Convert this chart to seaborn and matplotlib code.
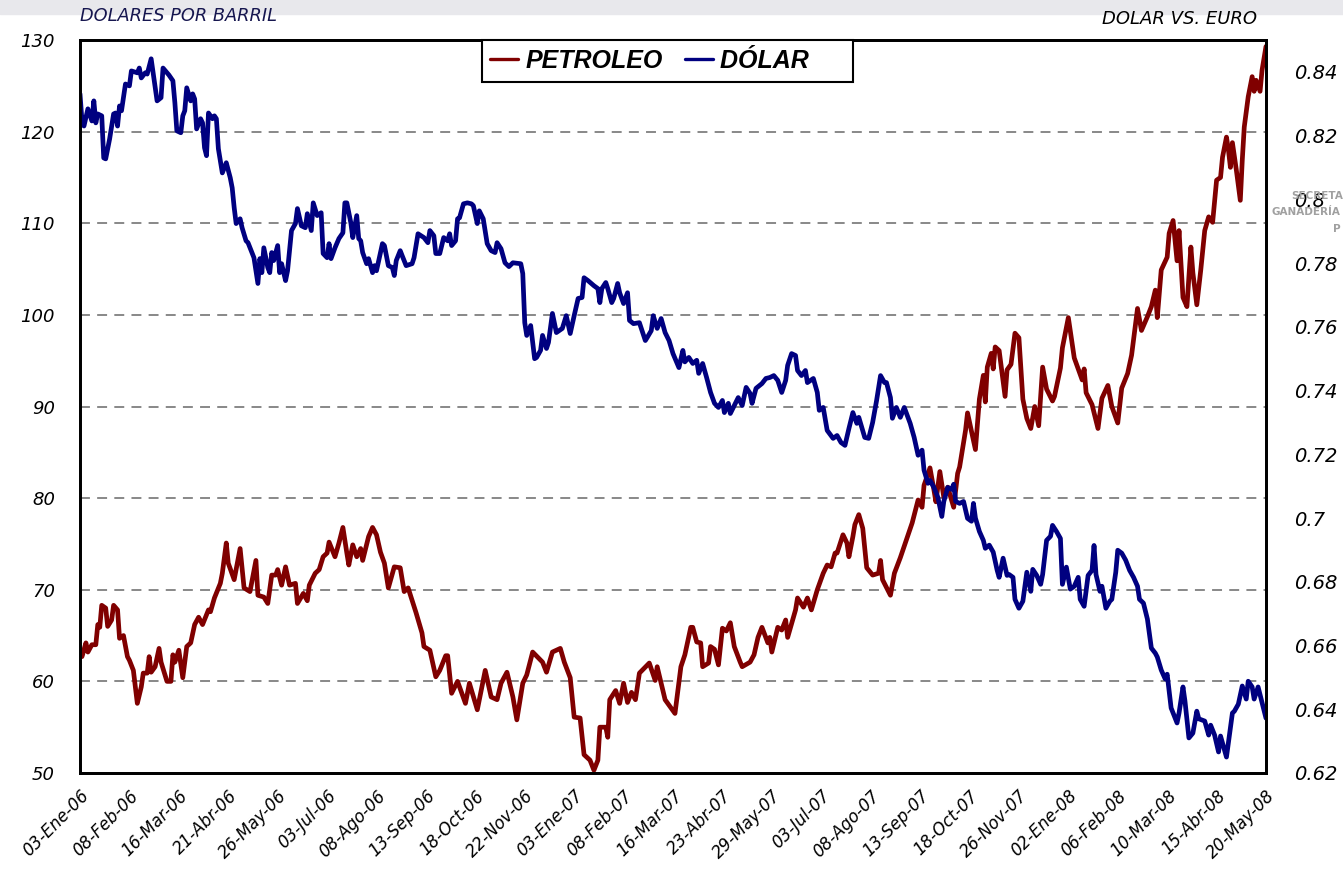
"""
plot.py: Petróleo (USD/barril) vs. Dólar frente al euro, ene-2006 a may-2008
Dos ejes: izquierda dólares por barril, derecha dólar vs. euro.
"""
import matplotlib
matplotlib.use("Agg")
import matplotlib.pyplot as plt
from matplotlib.patches import Rectangle
import seaborn as sns

sns.set_style("white")
plt.rcParams["font.family"] = ["DejaVu Sans"]
plt.rcParams["text.color"] = "black"
plt.rcParams["xtick.color"] = "black"
plt.rcParams["ytick.color"] = "black"

# ---- datos (índice = observación diaria) ----
tick_labels = ["03-Ene-06", "08-Feb-06", "16-Mar-06", "21-Abr-06", "26-May-06",
               "03-Jul-06", "08-Ago-06", "13-Sep-06", "18-Oct-06", "22-Nov-06",
               "03-Ene-07", "08-Feb-07", "16-Mar-07", "23-Abr-07", "29-May-07",
               "03-Jul-07", "08-Ago-07", "13-Sep-07", "18-Oct-07", "26-Nov-07",
               "02-Ene-08", "06-Feb-08", "10-Mar-08", "15-Abr-08", "20-May-08"]
tick_obs = list(range(0, 601, 25))

petroleo_obs = [
    0, 1, 3, 4, 6, 8, 9, 10, 11, 13, 14, 16, 17, 19, 20, 22, 24, 25, 27, 28,
    29, 31, 32, 34, 35, 36, 38, 40, 41, 44, 46, 47, 48, 50, 52, 54, 56, 58, 60, 62,
    65, 66, 68, 71, 72, 74, 75, 78, 81, 83, 86, 89, 90, 93, 95, 97, 99, 100, 102, 104,
    106, 109, 110, 113, 115, 116, 119, 121, 123, 125, 126, 129, 131, 133, 135, 136, 138, 140, 142, 143,
    146, 148, 150, 152, 154, 156, 159, 162, 164, 166, 170, 173, 174, 177, 180, 182, 185, 186, 188, 191,
    195, 197, 200, 201, 205, 208, 211, 213, 216, 219, 221, 224, 226, 229, 234, 236, 239, 243, 245, 248,
    250, 253, 255, 258, 260, 262, 263, 266, 267, 268, 271, 273, 275, 277, 279, 281, 283, 288, 291, 292,
    296, 301, 304, 306, 309, 310, 312, 314, 315, 318, 319, 321, 323, 325, 327, 329, 331, 334, 335, 339,
    341, 343, 345, 348, 349, 350, 353, 355, 357, 358, 362, 363, 366, 368, 370, 373, 376, 378, 380, 382,
    383, 386, 388, 389, 391, 392, 394, 396, 398, 401, 404, 405, 406, 410, 412, 415, 418, 421, 424, 426,
    427, 430, 432, 433, 435, 437, 439, 442, 444, 445, 448, 449, 453, 455, 457, 458, 459, 461, 462, 463,
    465, 468, 469, 471, 473, 475, 477, 479, 481, 483, 485, 487, 489, 492, 493, 496, 497, 500, 503, 507,
    508, 509, 512, 515, 517, 520, 522, 525, 527, 530, 532, 535, 537, 540, 542, 544, 545, 547, 550, 551,
    553, 555, 556, 558, 560, 562, 563, 565, 567, 569, 571, 573, 575, 577, 578, 580, 581, 582, 583, 585,
    587, 588, 589, 591, 593, 594, 595, 597, 598, 600]
petroleo_usd = [
    63.2, 62.7, 64.2, 63.2, 64.0, 64.0, 66.2, 65.9, 68.3, 68.0, 66.0, 66.7, 68.3, 67.8, 64.7, 65.0, 62.7, 62.3, 61.2, 59.4,
    57.6, 59.4, 60.9, 60.9, 62.7, 61.0, 61.6, 63.6, 62.1, 60.0, 60.0, 62.9, 62.1, 63.4, 60.4, 63.8, 64.2, 66.2, 67.0, 66.2,
    67.8, 67.6, 69.1, 70.7, 71.8, 75.1, 72.9, 71.1, 74.5, 70.2, 69.8, 73.2, 69.4, 69.2, 68.5, 71.6, 71.6, 72.2, 70.5, 72.5,
    70.5, 70.7, 68.5, 69.6, 68.8, 70.5, 71.8, 72.2, 73.6, 74.0, 75.2, 73.6, 75.1, 76.8, 74.0, 72.7, 74.9, 73.6, 74.5, 73.2,
    75.8, 76.8, 76.0, 74.1, 72.9, 70.2, 72.5, 72.4, 69.8, 70.2, 67.5, 65.3, 63.8, 63.4, 60.5, 61.2, 62.8, 62.8, 58.7, 60.0,
    57.6, 59.8, 57.6, 56.9, 61.2, 58.3, 58.0, 59.8, 61.0, 58.3, 55.8, 59.8, 60.7, 63.2, 62.1, 61.0, 63.2, 63.6, 62.1, 60.4,
    56.1, 56.0, 52.0, 51.4, 50.3, 51.4, 55.0, 55.0, 53.9, 58.0, 59.0, 57.6, 59.8, 57.7, 58.8, 58.0, 60.9, 62.0, 60.1, 61.6,
    58.0, 56.5, 61.6, 62.9, 65.9, 65.9, 64.3, 64.2, 61.6, 62.0, 63.8, 63.5, 61.8, 65.8, 65.5, 66.4, 63.8, 62.1, 61.6, 62.1,
    62.9, 64.8, 65.9, 64.2, 64.8, 63.2, 65.9, 65.6, 66.7, 64.8, 67.8, 69.1, 68.1, 69.1, 67.8, 70.0, 71.8, 72.7, 72.5, 74.0,
    74.0, 76.0, 75.1, 73.6, 75.8, 77.1, 78.2, 76.7, 72.4, 71.6, 71.8, 73.2, 71.1, 69.4, 71.8, 73.5, 75.4, 77.3, 79.8, 79.0,
    81.4, 83.3, 80.9, 79.6, 82.9, 80.1, 81.2, 79.0, 82.7, 83.4, 87.4, 89.3, 85.3, 90.8, 93.4, 90.5, 94.3, 95.8, 94.1, 96.5,
    96.1, 91.1, 94.0, 94.6, 98.0, 97.5, 90.8, 88.7, 87.6, 90.0, 87.9, 94.3, 91.9, 90.6, 91.1, 94.2, 96.4, 99.7, 95.3, 92.9,
    94.1, 91.5, 90.2, 87.6, 90.9, 92.3, 90.0, 88.2, 92.0, 93.6, 95.6, 100.7, 98.3, 99.8, 100.9, 102.7, 99.7, 104.9, 106.3, 108.9,
    110.3, 105.9, 109.2, 101.9, 100.9, 107.4, 104.6, 101.1, 104.9, 109.2, 110.7, 110.1, 114.7, 115.0, 117.2, 119.4, 118.0, 116.1, 118.8, 115.8,
    112.5, 116.9, 120.5, 123.8, 126.0, 124.4, 125.6, 124.4, 126.7, 129.3]

dolar_obs = [
    0, 1, 2, 4, 6, 7, 8, 9, 11, 12, 13, 15, 17, 18, 19, 20, 21, 23, 25, 26,
    29, 30, 31, 33, 34, 36, 37, 39, 41, 42, 45, 47, 48, 49, 51, 52, 53, 54, 56, 57,
    58, 59, 61, 62, 63, 64, 65, 67, 68, 69, 70, 72, 74, 76, 77, 78, 79, 81, 82, 84,
    85, 88, 90, 91, 92, 93, 95, 96, 97, 98, 100, 101, 102, 104, 105, 107, 109, 110, 112, 114,
    115, 117, 118, 120, 122, 123, 125, 126, 127, 129, 131, 133, 134, 135, 137, 138, 140, 141, 142, 143,
    145, 146, 148, 149, 150, 153, 154, 156, 158, 159, 160, 162, 163, 165, 168, 169, 171, 174, 176, 177,
    179, 180, 182, 184, 186, 187, 188, 190, 191, 192, 194, 196, 198, 199, 201, 202, 204, 206, 208, 210,
    211, 213, 215, 217, 219, 223, 224, 225, 226, 228, 230, 231, 233, 234, 236, 237, 239, 241, 244, 246,
    248, 250, 252, 254, 255, 257, 260, 262, 263, 264, 266, 267, 269, 270, 272, 273, 275, 277, 278, 280,
    283, 286, 287, 289, 290, 292, 294, 296, 298, 300, 303, 305, 306, 308, 310, 312, 313, 315, 317, 319,
    321, 323, 325, 326, 328, 329, 331, 333, 335, 337, 339, 340, 342, 345, 347, 349, 351, 353, 355, 357,
    358, 360, 362, 363, 365, 367, 368, 371, 373, 374, 376, 378, 381, 383, 385, 387, 389, 391, 393, 394,
    397, 399, 401, 403, 405, 407, 408, 410, 411, 413, 415, 417, 420, 422, 424, 426, 427, 429, 430, 432,
    434, 436, 437, 439, 441, 442, 443, 445, 447, 449, 451, 452, 453, 455, 457, 458, 460, 462, 464, 465,
    467, 469, 470, 472, 473, 475, 477, 479, 481, 482, 484, 486, 487, 489, 491, 492, 494, 496, 497, 499,
    501, 503, 505, 506, 508, 510, 512, 513, 514, 516, 517, 519, 521, 522, 524, 525, 527, 529, 531, 533,
    535, 536, 538, 540, 542, 544, 545, 547, 549, 550, 552, 555, 556, 558, 559, 561, 563, 565, 566, 569,
    571, 572, 574, 576, 577, 580, 583, 584, 586, 588, 590, 591, 593, 594, 596, 600]
dolar_eur = [
    0.8331, 0.8246, 0.8230, 0.8284, 0.8246, 0.8309, 0.8240, 0.8268, 0.8262, 0.8130, 0.8127, 0.8190, 0.8268, 0.8271, 0.8230, 0.8293, 0.8278, 0.8362, 0.8356, 0.8403,
    0.8397, 0.8412, 0.8381, 0.8397, 0.8393, 0.8441, 0.8397, 0.8309, 0.8319, 0.8412, 0.8390, 0.8372, 0.8303, 0.8215, 0.8209, 0.8262, 0.8278, 0.8350, 0.8309, 0.8331,
    0.8315, 0.8221, 0.8253, 0.8240, 0.8162, 0.8137, 0.8271, 0.8253, 0.8262, 0.8253, 0.8159, 0.8083, 0.8115, 0.8068, 0.8036, 0.7974, 0.7924, 0.7939, 0.7911, 0.7870,
    0.7864, 0.7817, 0.7736, 0.7814, 0.7770, 0.7848, 0.7786, 0.7770, 0.7833, 0.7808, 0.7855, 0.7770, 0.7798, 0.7745, 0.7776, 0.7902, 0.7924, 0.7971, 0.7917, 0.7911,
    0.7955, 0.7902, 0.7989, 0.7949, 0.7958, 0.7830, 0.7817, 0.7861, 0.7814, 0.7848, 0.7877, 0.7895, 0.7989, 0.7989, 0.7927, 0.7880, 0.7949, 0.7877, 0.7870, 0.7833,
    0.7798, 0.7814, 0.7770, 0.7792, 0.7776, 0.7861, 0.7855, 0.7792, 0.7786, 0.7761, 0.7808, 0.7839, 0.7823, 0.7792, 0.7798, 0.7817, 0.7892, 0.7880, 0.7864, 0.7902,
    0.7886, 0.7830, 0.7830, 0.7880, 0.7870, 0.7892, 0.7855, 0.7870, 0.7939, 0.7942, 0.7986, 0.7989, 0.7986, 0.7980, 0.7924, 0.7964, 0.7939, 0.7861, 0.7839, 0.7833,
    0.7864, 0.7845, 0.7801, 0.7789, 0.7801, 0.7798, 0.7767, 0.7613, 0.7573, 0.7604, 0.7500, 0.7504, 0.7526, 0.7573, 0.7532, 0.7551, 0.7642, 0.7582, 0.7595, 0.7635,
    0.7579, 0.7635, 0.7689, 0.7692, 0.7754, 0.7745, 0.7729, 0.7720, 0.7676, 0.7720, 0.7739, 0.7720, 0.7676, 0.7689, 0.7736, 0.7707, 0.7673, 0.7707, 0.7620, 0.7610,
    0.7613, 0.7557, 0.7567, 0.7588, 0.7635, 0.7595, 0.7626, 0.7582, 0.7557, 0.7516, 0.7472, 0.7526, 0.7490, 0.7504, 0.7485, 0.7495, 0.7454, 0.7485, 0.7441, 0.7394,
    0.7360, 0.7347, 0.7369, 0.7331, 0.7360, 0.7328, 0.7353, 0.7378, 0.7353, 0.7410, 0.7391, 0.7360, 0.7407, 0.7422, 0.7438, 0.7441, 0.7447, 0.7432, 0.7394, 0.7432,
    0.7479, 0.7516, 0.7510, 0.7463, 0.7447, 0.7463, 0.7425, 0.7438, 0.7394, 0.7338, 0.7347, 0.7275, 0.7250, 0.7259, 0.7237, 0.7228, 0.7281, 0.7331, 0.7297, 0.7316,
    0.7253, 0.7250, 0.7300, 0.7369, 0.7447, 0.7425, 0.7425, 0.7378, 0.7313, 0.7347, 0.7316, 0.7347, 0.7297, 0.7253, 0.7197, 0.7213, 0.7150, 0.7109, 0.7118, 0.7096,
    0.7065, 0.7005, 0.7052, 0.7096, 0.7090, 0.7106, 0.7052, 0.7046, 0.7052, 0.6999, 0.6990, 0.7046, 0.7000, 0.6958, 0.6930, 0.6905, 0.6915, 0.6893, 0.6836, 0.6814,
    0.6874, 0.6820, 0.6823, 0.6814, 0.6745, 0.6717, 0.6739, 0.6830, 0.6770, 0.6839, 0.6820, 0.6792, 0.6823, 0.6930, 0.6943, 0.6977, 0.6958, 0.6936, 0.6792, 0.6846,
    0.6777, 0.6786, 0.6814, 0.6745, 0.6723, 0.6820, 0.6836, 0.6914, 0.6823, 0.6770, 0.6786, 0.6717, 0.6739, 0.6745, 0.6830, 0.6899, 0.6890, 0.6868, 0.6836, 0.6814,
    0.6786, 0.6745, 0.6733, 0.6683, 0.6592, 0.6576, 0.6564, 0.6523, 0.6495, 0.6510, 0.6404, 0.6357, 0.6388, 0.6470, 0.6426, 0.6310, 0.6325, 0.6394, 0.6370, 0.6363,
    0.6319, 0.6350, 0.6319, 0.6266, 0.6316, 0.6250, 0.6388, 0.6394, 0.6416, 0.6473, 0.6432, 0.6488, 0.6470, 0.6432, 0.6470, 0.6372]

left_ticks = list(range(50, 131, 10))
right_ticks = [0.62, 0.64, 0.66, 0.68, 0.70, 0.72, 0.74, 0.76, 0.78, 0.80, 0.82, 0.84]

RED = "#800000"
BLUE = "#000080"
W, H = 1343, 885

fig = plt.figure(figsize=(W / 100, H / 100), dpi=100)
# franja gris superior
fig.add_artist(Rectangle((0, 1 - 14 / H), 1, 14 / H, transform=fig.transFigure,
                         color="#e8e8ec", zorder=0))

ax = fig.add_axes([80 / W, 1 - 773 / H, (1266 - 80) / W, (773 - 40) / H])
ax2 = ax.twinx()

sns.lineplot(x=petroleo_obs, y=petroleo_usd, ax=ax, color=RED, linewidth=3.4,
             estimator=None, legend=False)
sns.lineplot(x=dolar_obs, y=dolar_eur, ax=ax2, color=BLUE, linewidth=3.4,
             estimator=None, legend=False)

ax.set_xlim(0, 600)
ax.set_ylim(50, 130)
ax2.set_ylim(0.62, 0.85)

# eje izquierdo
ax.set_yticks(left_ticks)
ax.set_yticklabels([str(v) for v in left_ticks], fontsize=13, fontstyle="italic")
ax.yaxis.grid(True, color="#7f7f7f", linestyle=(0, (5.5, 4)), linewidth=1.3)
ax.xaxis.grid(False)
ax.tick_params(axis="y", length=0, pad=18)

# eje derecho
ax2.set_yticks(right_ticks)
ax2.set_yticklabels([f"{round(v, 2):g}" for v in right_ticks], fontsize=14,
                    fontstyle="italic")
ax2.tick_params(axis="y", length=0, pad=20)
ax2.grid(False)

# eje x con fechas
ax.set_xticks(tick_obs)
ax.set_xticklabels(tick_labels, rotation=45, ha="right", va="top",
                   rotation_mode="anchor", fontsize=12, fontstyle="italic")
ax.tick_params(axis="x", length=0, pad=10)
ax.set_xlabel("")
ax.set_ylabel("")
ax2.set_ylabel("")

for a in (ax, ax2):
    for s in a.spines.values():
        s.set_color("black")
        s.set_linewidth(2)

# leyenda (Excel deja hueco a la derecha)
leg = ax2.legend([ax.lines[0], ax2.lines[0]], ["PETROLEO", "DÓLAR     "],
                 loc="upper center", bbox_to_anchor=(0.495, 1.0), ncol=2,
                 frameon=True, fancybox=False, edgecolor="black", framealpha=1,
                 prop=dict(family="Liberation Sans", weight="bold", style="italic", size=18),
                 labelcolor="black", handlelength=1.1, handletextpad=0.3,
                 columnspacing=0.9, borderpad=0.35, borderaxespad=0)
leg.get_frame().set_linewidth(1.5)
for h in leg.legend_handles:
    h.set_linewidth(2.4)

# títulos de ejes
fig.text(80 / W, 1 - 16 / H, "DOLARES POR BARRIL", fontsize=12.8, fontstyle="italic",
         color="#16164f", ha="left", va="center")
fig.text(1257 / W, 1 - 19 / H, "DOLAR VS. EURO", fontsize=13, fontstyle="italic",
         color="black", ha="right", va="center")

# marca de agua (solo la parte visible en el borde)
wm = dict(fontsize=7.5, color="#a0a0a0", fontweight="bold", ha="left", va="center")
fig.text(1291 / W, 1 - 196 / H, "SECRETA", **wm)
fig.text(1272 / W, 1 - 212 / H, "GANADERÍA", **wm)
fig.text(1333 / W, 1 - 229 / H, "P", **wm)

fig.savefig("out.png", dpi=100)
plt.close(fig)
